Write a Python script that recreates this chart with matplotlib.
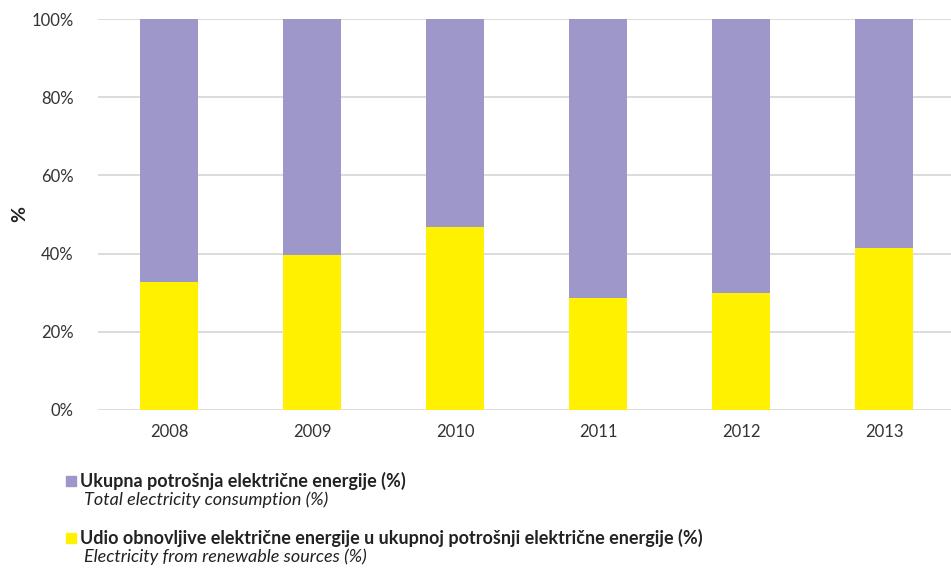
import matplotlib.pyplot as plt
import numpy as np

years = ['2008', '2009', '2010', '2011', '2012', '2013']
renewable = [32.7, 39.7, 46.8, 28.7, 29.9, 41.4]
total = [100, 100, 100, 100, 100, 100]

label_total = 'Ukupna potrošnja električne energije (%)'
label_total_en = 'Total electricity consumption (%)'
label_ren = 'Udio obnovljive električne energije u ukupnoj potrošnji električne energije (%)'
label_ren_en = 'Electricity from renewable sources (%)'

c_purple = '#9D97CA'
c_yellow = '#FFF100'

plt.rcParams['font.family'] = ['Lato', 'DejaVu Sans']

fig = plt.figure(figsize=(9.51, 5.68), dpi=100)
W, H = 951, 568
ax = fig.add_axes([97.5 / W, 1 - 410 / H, 858 / W, 391 / H])

x = np.arange(len(years))
rest = [t - r for t, r in zip(total, renewable)]
ax.bar(x, renewable, width=0.4, color=c_yellow, zorder=3)
ax.bar(x, rest, width=0.4, bottom=renewable, color=c_purple, zorder=3)

ax.set_xlim(-0.5, len(years) - 0.5)
ax.set_ylim(0, 100)
ax.set_yticks(range(0, 101, 20))
ax.set_yticklabels([f'{v}%' for v in range(0, 101, 20)], fontsize=12, color='#333333')
ax.set_xticks(x)
ax.set_xticklabels(years, fontsize=12, color='#333333')
ax.tick_params(length=0, pad=10)
ax.tick_params(axis='y', pad=17)
ax.grid(axis='y', color='#D9D9D9', linewidth=1.3, zorder=0)
for s in ax.spines.values():
    s.set_visible(False)

# axis title sits further left than the default label position
fig.text(20 / W, 1 - 214 / H, '%', fontsize=14, fontweight='bold',
         rotation=90, ha='center', va='center', color='#222222')

# legend drawn by hand: bold local label plus italic english line
fig.patches.append(plt.Rectangle((66 / W, 1 - 486 / H), 10 / W, 10 / H,
                                 transform=fig.transFigure, color=c_purple))
fig.text(80 / W, 1 - 481 / H, label_total, fontsize=13, fontweight='bold',
         va='center', color='#222222')
fig.text(84 / W, 1 - 500 / H, label_total_en, fontsize=13, style='italic',
         va='center', color='#222222')
fig.patches.append(plt.Rectangle((66 / W, 1 - 543 / H), 10 / W, 10 / H,
                                 transform=fig.transFigure, color=c_yellow))
fig.text(80 / W, 1 - 538 / H, label_ren, fontsize=13, fontweight='bold',
         va='center', color='#222222')
fig.text(84 / W, 1 - 557 / H, label_ren_en, fontsize=13, style='italic',
         va='center', color='#222222')

fig.savefig('out.png', dpi=100)
